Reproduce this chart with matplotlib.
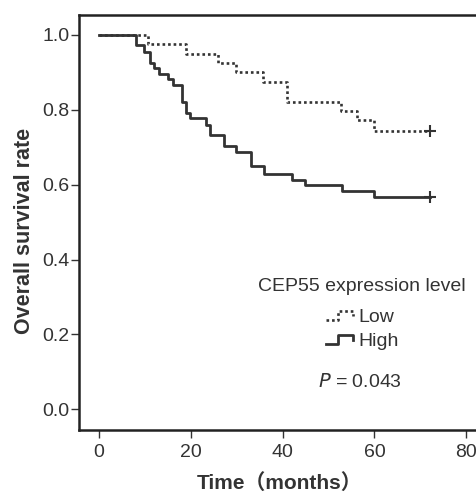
import matplotlib
matplotlib.use("Agg")
import matplotlib.pyplot as plt
from matplotlib.lines import Line2D
from matplotlib.legend_handler import HandlerBase

# Kaplan-Meier steps
low_t = [0, 10.7, 19.0, 25.9, 29.9, 35.7, 40.9, 52.8, 56.2, 60.0, 72.0]
low_s = [1.0, 0.976, 0.949, 0.924, 0.900, 0.874, 0.822, 0.796, 0.773, 0.744, 0.744]

high_t = [0, 8.0, 9.8, 11.1, 12.0, 13.0, 15.1, 16.2, 18.0, 18.9, 19.9, 23.3, 24.1,
          27.2, 29.9, 33.2, 35.9, 42.1, 44.8, 53.0, 60.0, 72.0]
high_s = [1.0, 0.973, 0.953, 0.926, 0.911, 0.896, 0.882, 0.867, 0.822, 0.791, 0.778,
          0.760, 0.733, 0.702, 0.687, 0.649, 0.629, 0.613, 0.598, 0.582, 0.567, 0.567]

xticks = [0, 20, 40, 60, 80]
yticks = [0.0, 0.2, 0.4, 0.6, 0.8, 1.0]

plt.rcParams['font.family'] = ['Liberation Sans', 'Noto Sans CJK SC', 'DejaVu Sans']
col = '#333333'


class StepHandler(HandlerBase):
    # legend sample drawn as a little step, like SPSS does
    def create_artists(self, legend, orig_handle, xdescent, ydescent,
                       width, height, fontsize, trans):
        x0 = -xdescent
        y0 = -ydescent
        xs = [x0, x0 + 0.45 * width, x0 + 0.45 * width, x0 + width, x0 + width]
        ys = [y0 + 0.15 * height, y0 + 0.15 * height, y0 + 0.8 * height,
              y0 + 0.8 * height, y0 + 0.45 * height]
        ln = Line2D(xs, ys)
        ln.update_from(orig_handle)
        ln.set_marker('')
        ln.set_transform(trans)
        return [ln]


fig = plt.figure(figsize=(4.76, 4.92), dpi=100)
ax = fig.add_axes([79 / 476, 62 / 492, 401 / 476, 415 / 492])

lo, = ax.step(low_t, low_s, where='post', color=col, lw=1.9, linestyle=(0, (1, 1.1)))
hi, = ax.step(high_t, high_s, where='post', color=col, lw=2.0)
ax.plot(low_t[-1], low_s[-1], marker='+', color=col, ms=8, mew=1.5)
ax.plot(high_t[-1], high_s[-1], marker='+', color=col, ms=8, mew=1.5)

ax.set_xlim(-4.35, 83)
ax.set_ylim(-0.055, 1.053)
ax.set_xticks(xticks)
ax.set_yticks(yticks)
ax.set_yticklabels([f"{v:.1f}" for v in yticks])
ax.tick_params(labelsize=14, length=6, width=1, color=col, labelcolor='#333333')
ax.tick_params(axis='y', pad=1)
ax.tick_params(axis='x', pad=4)
for s in ax.spines.values():
    s.set_linewidth(1.8)
    s.set_color('#222222')

ax.set_ylabel("Overall survival rate", fontsize=15.5, fontweight='bold', color='#333333', labelpad=5)
ax.yaxis.label.set_y(0.48)
ax.set_xlabel("Time（months）", fontsize=15, fontweight='bold', color='#333333', labelpad=9)

ax.text(0.706, 0.345, "CEP55 expression level", transform=ax.transAxes,
        ha='center', va='center', fontsize=14, color='#333333')
leg = ax.legend([lo, hi], ["Low", "High"],
                handler_map={lo: StepHandler(), hi: StepHandler()},
                loc='center', bbox_to_anchor=(0.707, 0.243), frameon=False,
                fontsize=14, handlelength=1.35, handletextpad=0.3,
                labelspacing=0.33, borderpad=0)
for t in leg.get_texts():
    t.set_color('#333333')

ax.text(0.70, 0.115, "$P$ = 0.043", transform=ax.transAxes, ha='center', va='center',
        fontsize=14, color='#333333')

fig.savefig("out.png", dpi=100)
